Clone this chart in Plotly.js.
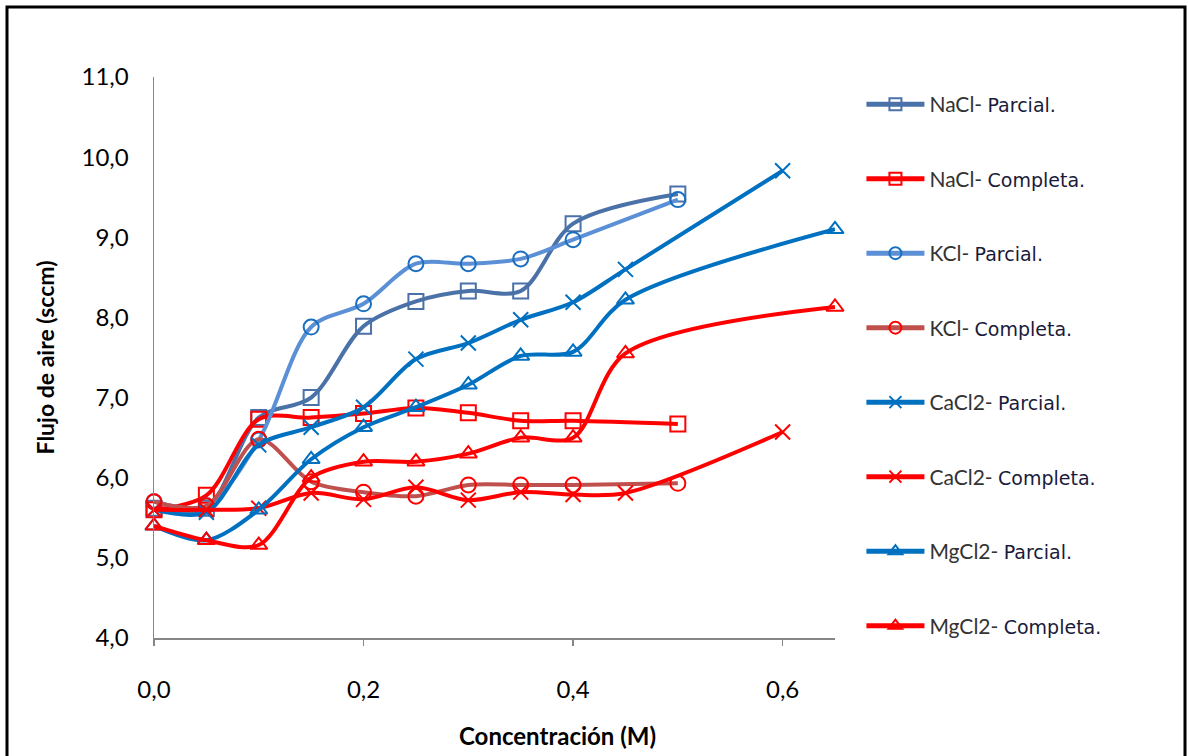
<!DOCTYPE html>
<html>
<head>
<meta charset="utf-8">
<script src="https://cdn.plot.ly/plotly-3.0.1.min.js"></script>
<style>html,body{margin:0;padding:0;background:#fff;}#chart{width:1189px;height:756px;}</style>
</head>
<body>
<div id="chart"></div>
<script>
// Concentration (M)
const xA = [0, 0.05, 0.1, 0.15, 0.2, 0.25, 0.3, 0.35, 0.4, 0.5];
const xCa = [0, 0.05, 0.1, 0.15, 0.2, 0.25, 0.3, 0.35, 0.4, 0.45, 0.6];
const xMg = [0, 0.05, 0.1, 0.15, 0.2, 0.25, 0.3, 0.35, 0.4, 0.45, 0.65];

// Air flow (sccm)
const naclParcial   = [5.62, 5.62, 6.75, 7.00, 7.89, 8.20, 8.33, 8.33, 9.17, 9.54];
const naclCompleta  = [5.60, 5.78, 6.73, 6.75, 6.80, 6.87, 6.81, 6.71, 6.71, 6.67];
const kclParcial    = [5.70, 5.65, 6.47, 7.88, 8.17, 8.67, 8.67, 8.73, 8.97, 9.47];
const kclCompleta   = [5.70, 5.65, 6.48, 5.95, 5.82, 5.77, 5.91, 5.91, 5.91, 5.93];
const cacl2Parcial  = [5.60, 5.57, 6.41, 6.63, 6.88, 7.48, 7.68, 7.97, 8.19, 8.60, 9.83];
const cacl2Completa = [5.60, 5.60, 5.62, 5.81, 5.73, 5.88, 5.72, 5.82, 5.79, 5.81, 6.57];
const mgcl2Parcial  = [5.40, 5.22, 5.60, 6.23, 6.63, 6.88, 7.16, 7.52, 7.57, 8.22, 9.10];
const mgcl2Completa = [5.40, 5.22, 5.16, 6.00, 6.20, 6.20, 6.30, 6.50, 6.50, 7.55, 8.13];

const salts = ["NaCl-", "NaCl-", "KCl-", "KCl-", "CaCl2-", "CaCl2-", "MgCl2-", "MgCl2-"];
const kinds = ["Parcial.", "Completa.", "Parcial.", "Completa.", "Parcial.", "Completa.", "Parcial.", "Completa."];
const xTicks = [0, 0.2, 0.4, 0.6];
const xTickText = ["0,0", "0,2", "0,4", "0,6"];

function tr(i, x, y, lineColor, sym, mColor) {
  return {
    type: "scatter", mode: "lines+markers",
    name: salts[i] + " <span style=\"font-family:'DejaVu Sans',Verdana,sans-serif;color:#1a1a3a;font-size:19px\">" + kinds[i] + "</span>",
    x: x, y: y, cliponaxis: false,
    legendgroup: "g" + i,
    line: {color: lineColor, width: 4, shape: "spline", smoothing: 0.9},
    marker: {symbol: sym, size: 15, color: mColor, line: {color: mColor, width: 2}}
  };
}
const RED = "#ff0000", BLUE = "#0070c0";
const data = [
  tr(0, xA, naclParcial, "#4a72a8", "square-open", "#4a72a8"),
  tr(1, xA, naclCompleta, RED, "square-open", RED),
  tr(2, xA, kclParcial, "#5b8fd6", "circle-open", "#1a6fc0"),
  tr(3, xA, kclCompleta, "#c0504d", "circle-open", RED),
  tr(4, xCa, cacl2Parcial, BLUE, "x-thin-open", BLUE),
  tr(5, xCa, cacl2Completa, RED, "x-thin-open", RED),
  tr(6, xMg, mgcl2Parcial, BLUE, "triangle-up-open", BLUE),
  tr(7, xMg, mgcl2Completa, RED, "triangle-up-open", RED)
];

const layout = {
  width: 1189, height: 756,
  margin: {l: 154, r: 354, t: 77, b: 118, pad: 0},
  paper_bgcolor: "#ffffff", plot_bgcolor: "#ffffff",
  separators: ", ",
  font: {family: "Lato, 'Open Sans', sans-serif", size: 24, color: "#000000"},
  showlegend: true,
  legend: {
    x: 1.0388, xanchor: "left", y: 0.9875, yanchor: "top",
    font: {size: 21, color: "#333333"},
    tracegroupgap: 44.2, itemwidth: 58, itemsizing: "constant",
    bgcolor: "rgba(0,0,0,0)", maxheight: 700
  },
  xaxis: {
    range: [0, 0.65], tickvals: xTicks, ticktext: xTickText,
    showgrid: false, zeroline: false, showline: true, linecolor: "#868686", linewidth: 1.5,
    ticks: "outside", ticklen: 6, tickcolor: "#868686", tickwidth: 1.5, ticklabelstandoff: 24,
    tickfont: {size: 24}
  },
  yaxis: {
    range: [4, 11], dtick: 1, tick0: 4, tickformat: ".1f",
    showgrid: false, zeroline: false, showline: true, linecolor: "#868686", linewidth: 1.5,
    ticks: "", ticklabelstandoff: 19,
    tickfont: {size: 24},
    title: {text: "Flujo de aire (sccm)", font: {size: 23, family: "Lato, sans-serif", weight: "bold"}, standoff: 20}
  },
  annotations: [{
    text: "<b>Concentración (M)</b>", xref: "paper", yref: "paper",
    x: (557 - 154) / 681, y: (638 - 735) / 561, xanchor: "center", yanchor: "middle",
    showarrow: false, font: {size: 24, family: "Lato, sans-serif", color: "#000000"}
  }],
  shapes: [{
    type: "rect", xref: "paper", yref: "paper", layer: "above",
    x0: (7 - 154) / 681, x1: (1185 - 154) / 681,
    y0: (638 - 770) / 561, y1: (638 - 7) / 561,
    line: {color: "#000000", width: 3}, fillcolor: "rgba(0,0,0,0)"
  }]
};

Plotly.newPlot("chart", data, layout, {displayModeBar: false, staticPlot: true});
</script>
</body>
</html>
